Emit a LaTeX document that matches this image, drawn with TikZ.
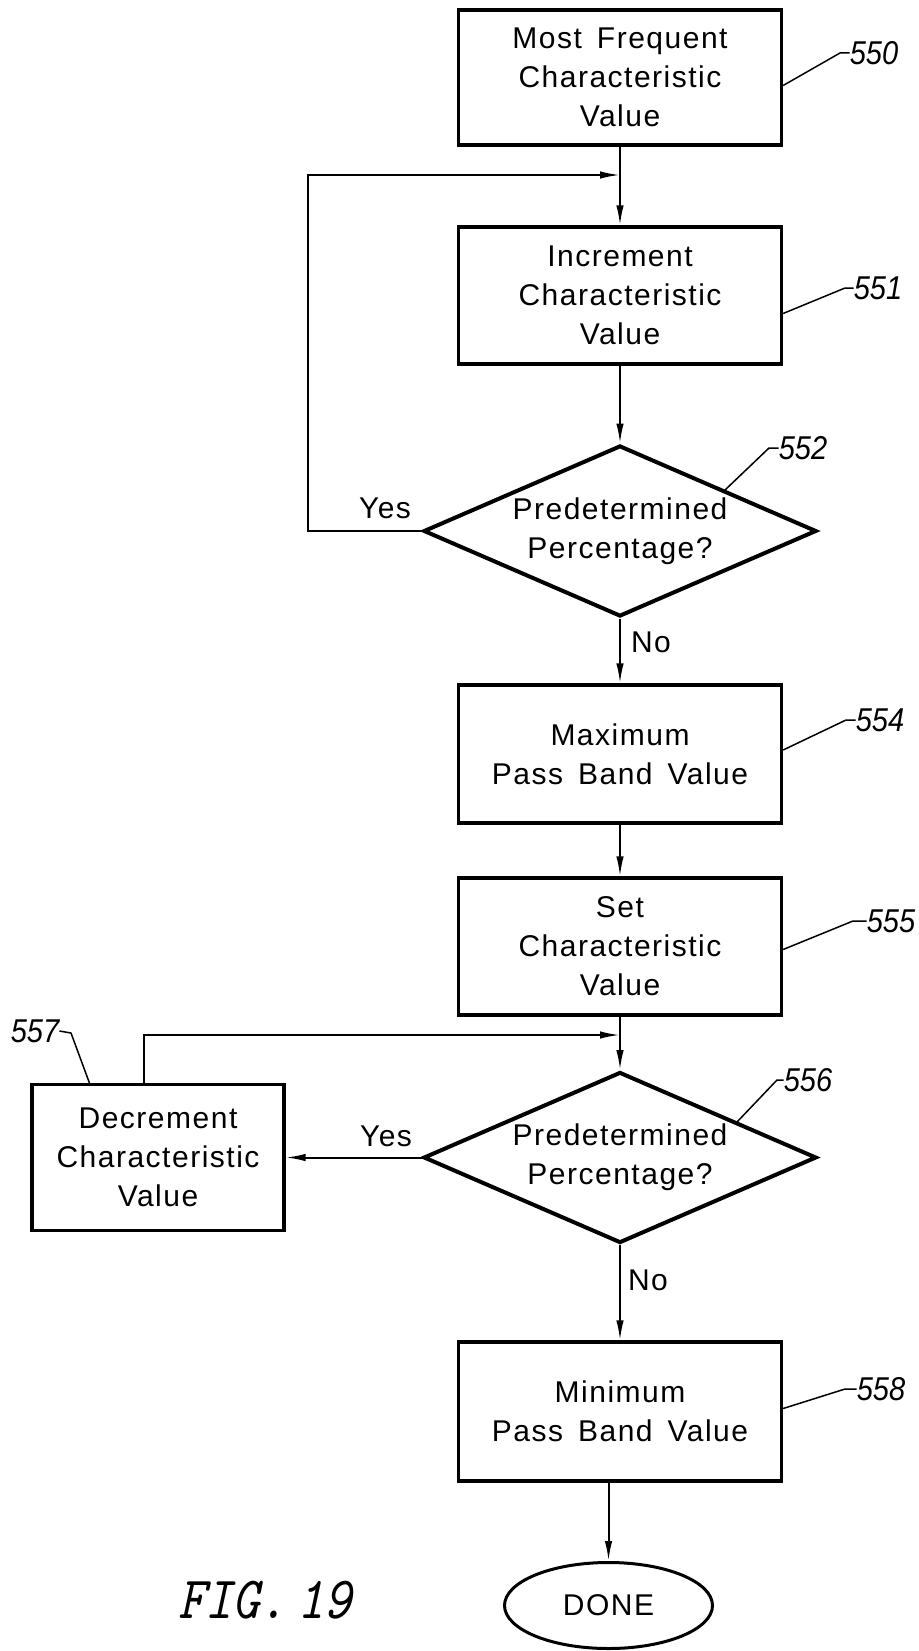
\documentclass[tikz,border=0pt]{standalone}
\usepackage{fontspec}
\usepackage{graphicx}
\setmainfont{Liberation Sans}[LetterSpace=5.0]
\newfontfamily\numfont{Liberation Sans}
\usetikzlibrary{shapes.geometric,arrows.meta,calc}
\newcommand\boxfont{\fontsize{30}{39}\selectfont}
\begin{document}
\begin{tikzpicture}[x=1pt,y=-1pt,
  box/.style={draw, line width=3.3pt, minimum width=323pt, inner sep=0pt, align=center, font=\boxfont},
  dec/.style={draw, diamond, line width=4pt, minimum width=393pt, minimum height=171pt, inner sep=0pt},
  dectext/.style={align=center, font=\boxfont, inner sep=0pt},
  conn/.style={line width=2pt, -{Latex[length=20pt,width=7.5pt]}},
  lead/.style={line width=1.5pt},
  num/.style={font=\numfont\itshape\fontsize{33}{33}\selectfont, inner sep=0pt},
  lbl/.style={font=\boxfont, inner sep=0pt}]
\useasboundingbox (0,0) rectangle (918,1651);
\fill[white] (0,0) rectangle (918,1651);
% nodes
\node[box, minimum height=135pt] (b550) at (620,77.5) {Most\enspace Frequent\\Characteristic\\Value};
\node[box, minimum height=137pt] (b551) at (620,295.5) {Increment\\Characteristic\\Value};
\node[dec, label={[dectext]center:Predetermined\\Percentage?}] (d552) at (620,531) {};
\node[box, minimum height=138pt] (b554) at (620,754) {Maximum\\Pass\enspace Band\enspace Value};
\node[box, minimum height=137pt] (b555) at (620,946.5) {Set\\Characteristic\\Value};
\node[dec, label={[dectext]center:Predetermined\\Percentage?}] (d556) at (620,1157.5) {};
\node[box, minimum width=252pt, minimum height=146pt] (b557) at (158,1157.5) {Decrement\\Characteristic\\Value};
\node[box, minimum height=139pt] (b558) at (620,1411.5) {Minimum\\Pass\enspace Band\enspace Value};
\node[draw, ellipse, line width=3pt, minimum width=208pt, minimum height=86pt, inner sep=0pt, font=\boxfont] (done) at (608.5,1605.5) {DONE};
% labels
\node[lbl] (yes1) at (385,508) {Yes};
\node[lbl] (no1) at (651,642) {No};
\node[lbl] (yes2) at (386,1136) {Yes};
\node[lbl] (no2) at (648,1280) {No};
% connectors
\coordinate (c1) at (308,175);
\coordinate (j1) at (620,175);
\coordinate (c2) at (144,1035);
\coordinate (j2) at (620,1035);
\draw[conn] (b550) -- (b551);
\draw[conn] (b551) -- (d552);
\draw[conn] (d552) -- (b554);
\draw[conn] (d552.west) -- (d552.west -| c1) -- (c1) -- (j1);
\draw[conn] (b554) -- (b555);
\draw[conn] (b555) -- (d556);
\draw[conn] (d556.west) -- (b557.east);
\draw[conn] (b557.north -| c2) -- (c2) -- (j2);
\draw[conn] (d556) -- (b558);
\draw[conn] (b558.south -| done) -- (done);
% reference numerals
\node[num] (n550) at (874,53) {\scalebox{0.88}[1]{550}};
\node[num] (n551) at (878,288) {\scalebox{0.88}[1]{551}};
\node[num] (n552) at (803,448) {\scalebox{0.88}[1]{552}};
\node[num] (n554) at (880,720) {\scalebox{0.88}[1]{554}};
\node[num] (n555) at (891,921) {\scalebox{0.88}[1]{555}};
\node[num] (n556) at (808,1080) {\scalebox{0.88}[1]{556}};
\node[num] (n557) at (35,1031) {\scalebox{0.88}[1]{557}};
\node[num] (n558) at (881,1389) {\scalebox{0.88}[1]{558}};
\draw[lead] ($(b550.east)+(0,8)$) -- (840,53) -- (n550.west);
\draw[lead] ($(b551.east)+(0,18)$) -- (845,288) -- (n551.west);
\draw[lead] (725,490) -- (769,448) -- (n552.west);
\draw[lead] ($(b554.east)+(0,-4)$) -- (846,720) -- (n554.west);
\draw[lead] ($(b555.east)+(0,3)$) -- (853,921) -- (n555.west);
\draw[lead] (737,1122) -- (777,1080) -- (n556.west);
\draw[lead] (n557.east) -- (71,1033) -- (90,1084.5);
\draw[lead] ($(b558.east)+(0,-3)$) -- (845,1389) -- (n558.west);
% figure caption
\node[inner sep=0pt] (fig) at (265,1600) {\scalebox{1.03}[1.2]{\ttfamily\itshape\fontsize{50}{50}\selectfont FIG.\hspace{0.2em}19}};
\end{tikzpicture}
\end{document}
